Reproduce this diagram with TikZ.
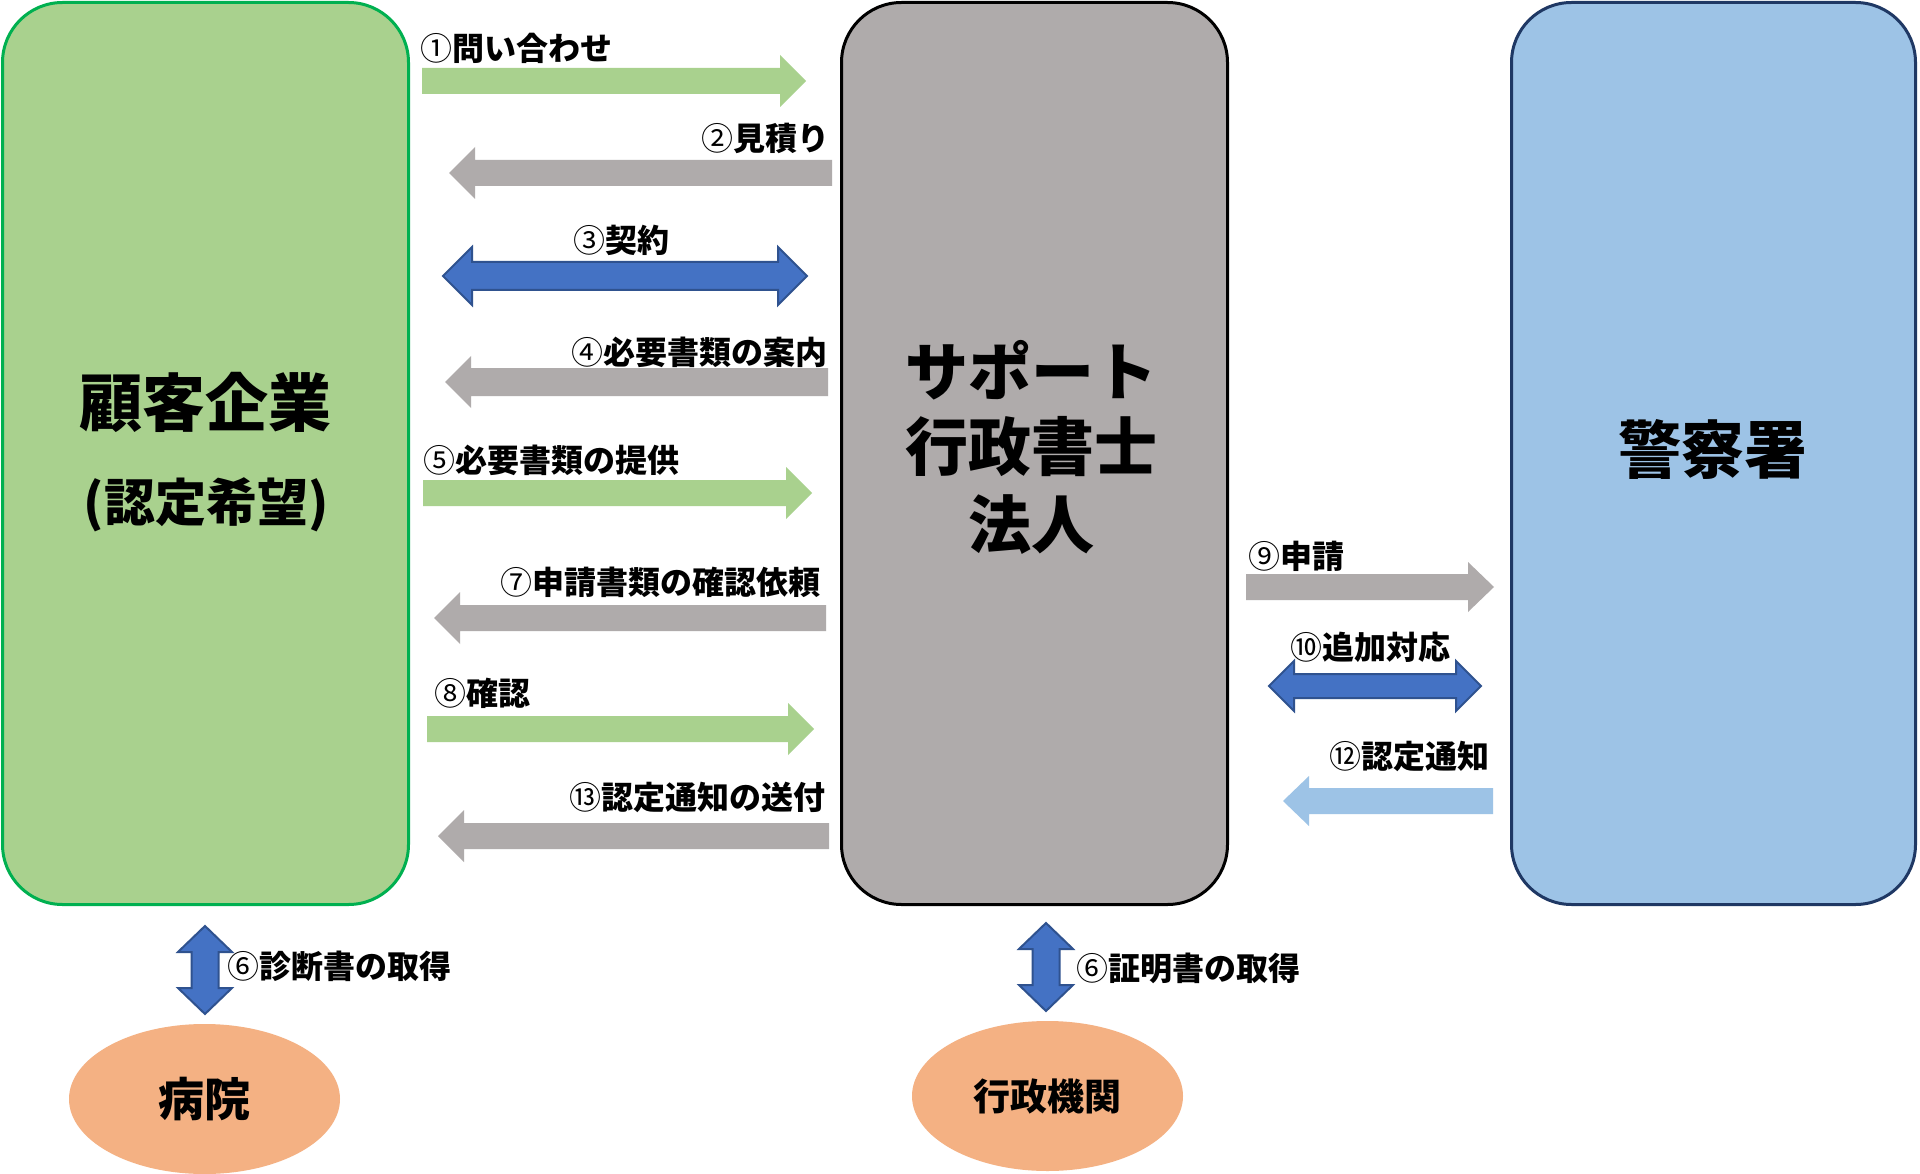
\documentclass[tikz,border=0pt]{standalone}
\usepackage{fontspec}
\setmainfont{Noto Sans CJK JP}
\usetikzlibrary{shapes.geometric}
\definecolor{grnF}{HTML}{A9D18E}
\definecolor{grnD}{HTML}{00B050}
\definecolor{gryF}{HTML}{AFABAB}
\definecolor{lbF}{HTML}{9DC3E6}
\definecolor{lbD}{HTML}{1F3864}
\definecolor{orF}{HTML}{F4B183}
\definecolor{bluF}{HTML}{4472C4}
\definecolor{bluD}{HTML}{2F528F}
% circled number in regular weight
\newcommand\cnum[1]{{\mdseries #1}}
% right-pointing block arrow: style, xtail, xtip, y, shaft half, head half, head length
\newcommand\arR[7]{\path[#1] (#2,#4-#5) -- (#3-#7,#4-#5) -- (#3-#7,#4-#6) -- (#3,#4) -- (#3-#7,#4+#6) -- (#3-#7,#4+#5) -- (#2,#4+#5) -- cycle;}
% left-pointing block arrow
\newcommand\arL[7]{\path[#1] (#2,#4-#5) -- (#3+#7,#4-#5) -- (#3+#7,#4-#6) -- (#3,#4) -- (#3+#7,#4+#6) -- (#3+#7,#4+#5) -- (#2,#4+#5) -- cycle;}
% horizontal double arrow
\newcommand\arD[7]{\path[#1] (#2,#4) -- (#2+#7,#4-#6) -- (#2+#7,#4-#5) -- (#3-#7,#4-#5) -- (#3-#7,#4-#6) -- (#3,#4) -- (#3-#7,#4+#6) -- (#3-#7,#4+#5) -- (#2+#7,#4+#5) -- (#2+#7,#4+#6) -- cycle;}
% vertical double arrow: style, x, ytop, ybottom, shaft half, head half, head length
\newcommand\arV[7]{\path[#1] (#2,#3) -- (#2+#6,#3+#7) -- (#2+#5,#3+#7) -- (#2+#5,#4-#7) -- (#2+#6,#4-#7) -- (#2,#4) -- (#2-#6,#4-#7) -- (#2-#5,#4-#7) -- (#2-#5,#3+#7) -- (#2-#6,#3+#7) -- cycle;}
\begin{document}
\begin{tikzpicture}[x=1pt,y=-1pt,
  bigbox/.style={rounded corners=60pt, line width=3pt, inner sep=0pt},
  title/.style={font=\fontsize{63}{70}\selectfont\bfseries, inner sep=0pt},
  lbl/.style={font=\fontsize{32}{36}\selectfont\bfseries, inner sep=0pt},
  oval/.style={ellipse, fill=orF, inner sep=0pt, minimum width=271pt, minimum height=150pt},
  grnA/.style={fill=grnF},
  gryA/.style={fill=gryF},
  lbA/.style={fill=lbF},
  bluA/.style={fill=bluF, draw=bluD, line width=2pt, line join=miter}]
\useasboundingbox[fill=white] (0,0) rectangle (1920,1174);

% main boxes
\node[bigbox, draw=grnD, fill=grnF, minimum width=406pt, minimum height=902pt] (cust) at (205.5,453.5) {};
\node[bigbox, draw=black, fill=gryF, minimum width=386pt, minimum height=902pt] (firm) at (1034.5,453.5) {};
\node[bigbox, draw=lbD, fill=lbF, minimum width=404pt, minimum height=902pt] (police) at (1713.5,453.5) {};

\node[title] (custT) at (205,402) {顧客企業};
\node[font=\fontsize{51}{56}\selectfont\bfseries, inner sep=0pt] (custS) at (206,505) {(認定希望)};
\node[title] (firmT1) at (1031,370) {サポート};
\node[title] (firmT2) at (1031,447) {行政書士};
\node[title] (firmT3) at (1031,525) {法人};
\node[title] (policeT) at (1713,449) {警察署};

% ellipses
\node[oval] (hosp) at (204.5,1099) {\fontsize{46}{50}\selectfont\bfseries 病院};
\node[oval] (gov) at (1047.5,1096) {\fontsize{37}{42}\selectfont\bfseries 行政機関};

% horizontal arrows customer <-> firm
\arR{grnA}{422}{806}{81}{13}{26}{26}
\node[lbl, anchor=west] (l1) at (420,48) {\cnum{①}問い合わせ};
\arL{gryA}{832}{449}{173}{13}{26}{26}
\node[lbl, anchor=east] (l2) at (830,138) {\cnum{②}見積り};
\arD{bluA}{443}{807}{276}{14}{29}{29}
\node[lbl] (l3) at (621,240) {\cnum{③}契約};
\arL{gryA}{828}{445}{382}{14}{26}{26}
\node[lbl, anchor=east] (l4) at (828,352) {\cnum{④}必要書類の案内};
\arR{grnA}{423}{812}{493}{13}{26}{26}
\node[lbl, anchor=west] (l5) at (423,460) {\cnum{⑤}必要書類の提供};
\arL{gryA}{826}{434}{618}{13}{26}{26}
\node[lbl, anchor=east] (l7) at (821,582) {\cnum{⑦}申請書類の確認依頼};
\arR{grnA}{427}{814}{729}{13}{26}{26}
\node[lbl, anchor=west] (l8) at (434,693) {\cnum{⑧}確認};
\arL{gryA}{829}{438}{836}{13}{26}{26}
\node[lbl, anchor=east] (l13) at (826,797) {\cnum{⑬}認定通知の送付};

% firm <-> police
\arR{gryA}{1246}{1494}{587}{13}{25}{26}
\node[lbl, anchor=west] (l9) at (1248,556) {\cnum{⑨}申請};
\arD{bluA}{1269}{1481}{686}{12}{25}{25}
\node[lbl] (l10) at (1370,647) {\cnum{⑩}追加対応};
\arL{lbA}{1493}{1283}{801}{13}{25}{26}
\node[lbl, anchor=east] (l12) at (1490,756) {\cnum{⑫}認定通知};

% vertical arrows
\arV{bluA}{205}{926}{1014}{13.5}{27}{26}
\node[lbl, anchor=west] (l6a) at (227,966) {\cnum{⑥}診断書の取得};
\arV{bluA}{1046}{923}{1011}{13.5}{27}{26}
\node[lbl, anchor=west] (l6b) at (1076,968) {\cnum{⑥}証明書の取得};
\end{tikzpicture}
\end{document}
